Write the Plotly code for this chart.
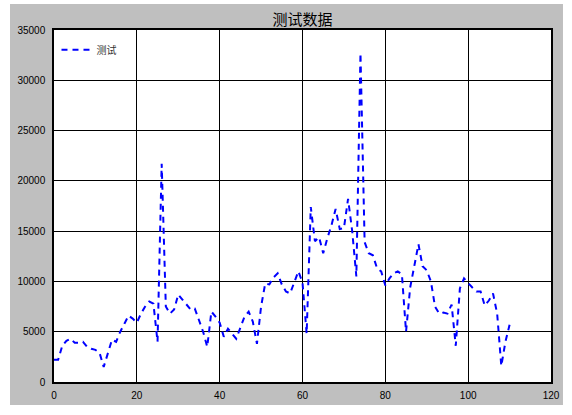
import plotly.graph_objects as go

# 测试数据
x_values = list(range(111))
y_values = [
    2200, 2200, 3600, 4100, 4300, 3900, 3900, 4000, 3500, 3300,
    3200, 2900, 1500, 2900, 4200, 4000, 5000, 5800, 6600, 6300,
    5900, 6800, 7500, 8000, 7800, 4000, 21700, 7500, 6800, 7200,
    8700, 8200, 7700, 7200, 7300, 6200, 5000, 3500, 7000, 6500,
    5900, 4500, 5300, 4800, 4300, 5400, 6500, 7000, 6000, 3800,
    7500, 9800, 9700, 10400, 10800, 9700, 9000, 8800, 10000, 11000,
    9900, 4800, 17400, 14000, 14400, 12800, 14300, 15600, 17200, 15200,
    15300, 18200, 15000, 10500, 32700, 13900, 12800, 12600, 11300, 11000,
    9600, 10300, 10800, 11000, 10700, 5000, 9400, 11500, 13700, 11500,
    11100, 10000, 7500, 6800, 6900, 6800, 7700, 3600, 9300, 10300,
    9800, 9400, 9000, 9000, 7600, 8100, 8800, 6800, 1600, 4000,
    5700,
]
series_name = "测试"
title_text = "测试数据"

font_family = "Liberation Sans, Arial, Noto Sans CJK SC"
grey = "#bfbfbf"

fig = go.Figure()
fig.add_trace(go.Scatter(
    x=x_values, y=y_values, mode="lines", name=series_name,
    line=dict(color="blue", width=2, dash="6px,5px"),
))

# grey figure face with a thin white border around it
band_y = (-0.0653, 1.0739)
fig.add_shape(type="rect", xref="paper", yref="paper", x0=-0.0885, x1=0,
              y0=band_y[0], y1=band_y[1], fillcolor=grey, line_width=0, layer="below")
fig.add_shape(type="rect", xref="paper", yref="paper", x0=1, x1=1.0241,
              y0=band_y[0], y1=band_y[1], fillcolor=grey, line_width=0, layer="below")
fig.add_shape(type="rect", xref="paper", yref="paper", x0=0, x1=1,
              y0=1, y1=band_y[1], fillcolor=grey, line_width=0, layer="below")
fig.add_shape(type="rect", xref="paper", yref="paper", x0=0, x1=1,
              y0=band_y[0], y1=0, fillcolor=grey, line_width=0, layer="below")

axis_style = dict(
    showgrid=True, gridcolor="black", gridwidth=1,
    showline=True, linecolor="black", linewidth=1.5, mirror=True,
    zeroline=False, ticks="", tickfont=dict(size=10, color="black"),
)

fig.update_layout(
    width=572, height=415,
    margin=dict(l=54, r=21, t=30, b=33),
    paper_bgcolor="white", plot_bgcolor="white",
    font=dict(family=font_family, color="black"),
    title=dict(text=title_text, x=0.5, xref="paper", xanchor="center",
               y=1 - 20 / 415, yref="container", yanchor="middle",
               font=dict(size=15, family="Noto Sans CJK SC")),
    legend=dict(x=0.005, y=0.985, xanchor="left", yanchor="top",
                bgcolor="rgba(0,0,0,0)", borderwidth=0, itemwidth=30,
                font=dict(size=10, color="#333333", family="Noto Sans CJK SC")),
    showlegend=True,
)
fig.update_xaxes(range=[0, 120], dtick=20, ticklabelstandoff=3, **axis_style)
fig.update_yaxes(range=[0, 35000], dtick=5000, tickformat="d",
                 ticklabelstandoff=5, **axis_style)

fig.write_html("out.html", config={"displayModeBar": False},
               post_script="document.body.style.margin='0';")
